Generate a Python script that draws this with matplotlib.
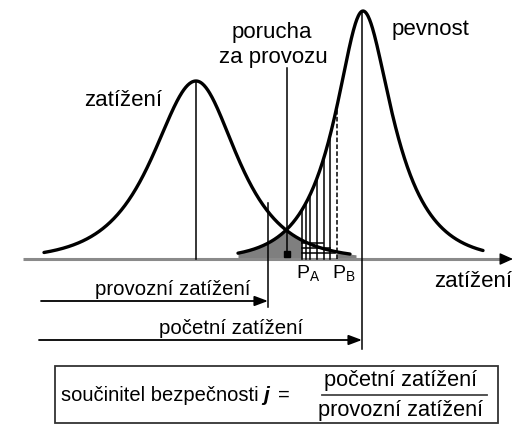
import numpy as np
import matplotlib
matplotlib.use('Agg')
import matplotlib.pyplot as plt
from matplotlib.patches import Rectangle

plt.rcParams['font.family'] = ['Liberation Sans', 'DejaVu Sans']
plt.rcParams['mathtext.fontset'] = 'custom'
plt.rcParams['mathtext.rm'] = 'Liberation Sans'
plt.rcParams['mathtext.it'] = 'Liberation Sans:italic'
plt.rcParams['mathtext.bf'] = 'Liberation Sans:bold'

# ---------------- data (pixel-like units; y = height above baseline) --------
curve_names = ['zatížení', 'pevnost']
peak_x = [196, 363]
peak_h = [178, 248]
scale_left = [38, 18]
scale_right = [36, 19]
shape_power = [1.0, 0.6]
curve_start = [44, 238]
curve_end = [350, 483]

overlap_range = [238, 356]
hatch_x = [302, 305.5, 310, 316.5, 323.5, 330]
p_a = 302
p_b = 337
hatch_levels = [16, 11, 6]
hatch_end = [323, 330, 335]

provozni_x = 268
pocetni_x = 362
porucha_x = 286.5

# text
label_curve1 = 'zatížení'
label_curve2 = 'pevnost'
label_porucha = ['porucha', 'za provozu']
label_axis = 'zatížení'
label_provozni = 'provozní zatížení'
label_pocetni = 'početní zatížení'
label_factor = 'součinitel bezpečnosti'
label_pa = r'P$_{\mathregular{A}}$'
label_pb = r'P$_{\mathregular{B}}$'


def density(x, i):
    d = np.asarray(x, dtype=float) - peak_x[i]
    L = np.where(d < 0, scale_left[i], scale_right[i])
    return peak_h[i] * np.cosh(d / L) ** (-shape_power[i])


fig = plt.figure(figsize=(5.18, 4.28), dpi=100)
ax = fig.add_axes([0, 0, 1, 1])
ax.set_xlim(0, 518)
ax.set_ylim(-169, 259)
ax.axis('off')

# overlap (gray) area
xo = np.linspace(overlap_range[0], overlap_range[1], 400)
ax.fill_between(xo, 0, np.minimum(density(xo, 0), density(xo, 1)),
                color='#7f7f7f', lw=0, zorder=1)
# hatched part between P_A and P_B
xh = np.linspace(p_a, p_b, 200)
ax.fill_between(xh, 0, np.minimum(density(xh, 0), density(xh, 1)),
                color='white', lw=0, zorder=2)
for h, xe in zip(hatch_levels, hatch_end):
    ax.plot([p_a, xe], [h, h], color='k', lw=1.1, zorder=3)
for xv in hatch_x:
    ax.plot([xv, xv], [0, density(xv, 1)], color='k', lw=1.1, zorder=3)
ax.plot([p_b, p_b], [0, density(p_b, 1)], color='k', lw=1.1,
        linestyle=(0, (3, 1.5)), zorder=3)

# baseline with arrow
ax.plot([23, 504], [0, 0], color='#8a8a8a', lw=2.2, zorder=2,
        solid_capstyle='butt')
ax.annotate('', xy=(513, 0), xytext=(503, 0),
            arrowprops=dict(arrowstyle='-|>,head_length=0.8,head_width=0.36',
                            color='k', lw=1.0, shrinkA=0, shrinkB=0,
                            mutation_scale=10), zorder=4)

# curves
for i in range(2):
    xc = np.linspace(curve_start[i], curve_end[i], 500)
    ax.plot(xc, density(xc, i), color='k', lw=2.4, zorder=5,
            solid_capstyle='round')

# vertical reference lines
ax.plot([peak_x[0], peak_x[0]], [0, peak_h[0]], color='k', lw=1.1, zorder=4)
ax.plot([pocetni_x, pocetni_x], [-90, peak_h[1]], color='k', lw=1.1, zorder=4)
ax.plot([provozni_x, provozni_x], [-48, 56], color='k', lw=1.1, zorder=4)
ax.plot([porucha_x, porucha_x], [5.5, 191], color='k', lw=1.1, zorder=4)
ax.plot([porucha_x], [5.5], marker='s', color='k', markersize=5, zorder=6)

# horizontal dimension arrows
arr = dict(arrowstyle='-|>,head_length=0.8,head_width=0.3', color='k',
           lw=1.3, shrinkA=0, shrinkB=0, mutation_scale=10)
ax.annotate('', xy=(provozni_x, -42), xytext=(41, -42), arrowprops=arr)
ax.annotate('', xy=(pocetni_x, -81), xytext=(39, -81), arrowprops=arr)

# labels
ax.text(123.5, 153, label_curve1, ha='center', va='baseline', fontsize=16)
ax.text(272, 221, label_porucha[0], ha='center', va='baseline', fontsize=16)
ax.text(273, 196, label_porucha[1], ha='center', va='baseline', fontsize=16)
ax.text(392, 224, label_curve2, ha='left', va='baseline', fontsize=16)
ax.text(473.5, -27.7, label_axis, ha='center', va='baseline', fontsize=16)
ax.text(172.5, -36, label_provozni, ha='center', va='baseline', fontsize=14.7)
ax.text(231.5, -75, label_pocetni, ha='center', va='baseline', fontsize=14.7)

ax.text(296, -19, label_pa, ha='left', va='baseline', fontsize=14)
ax.text(332, -19, label_pb, ha='left', va='baseline', fontsize=14)

# formula box
ax.add_patch(Rectangle((55, -164), 443, 57, fill=False, lw=1.3,
                       ec='#333333', zorder=3))
ax.text(61, -142, label_factor, ha='left', va='baseline', fontsize=14.5)
ax.text(263, -142, 'j', ha='left', va='baseline', fontsize=15,
        fontweight='bold', fontstyle='italic')
ax.text(278, -142, '=', ha='left', va='baseline', fontsize=14.5)
ax.text(401, -127, label_pocetni, ha='center', va='baseline', fontsize=15.7)
ax.text(401, -157, label_provozni, ha='center', va='baseline', fontsize=15.7)
ax.plot([322, 487], [-136, -136], color='#444444', lw=1.3)

fig.savefig('out.png', dpi=100)
